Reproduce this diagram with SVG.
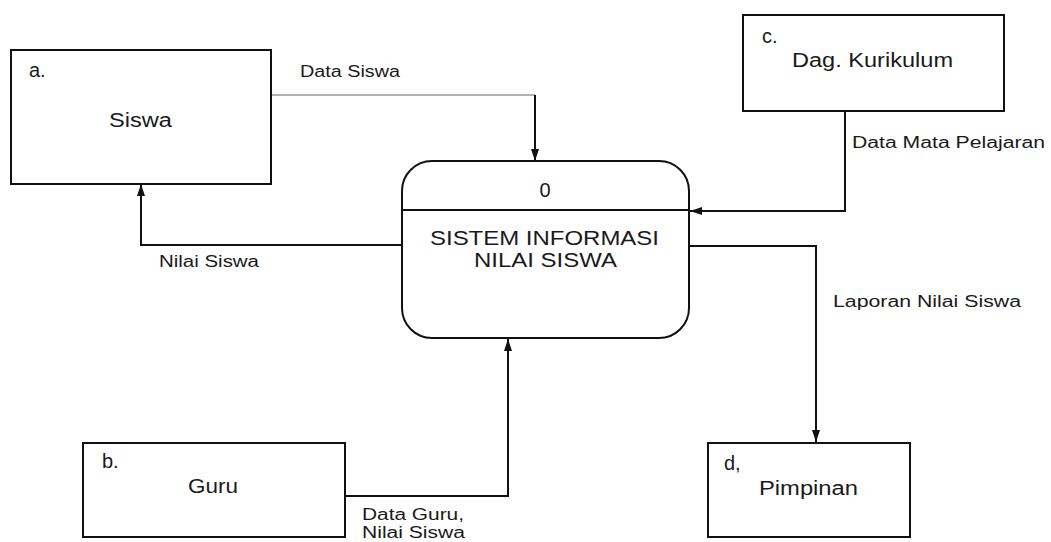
<svg xmlns="http://www.w3.org/2000/svg" width="1051" height="542" viewBox="0 0 1051 542">
<style>
.box{fill:#fff;stroke:#111;stroke-width:2}
.t{font-family:"Liberation Sans",Arial,sans-serif;fill:#1a1a1a}
.n{font-size:20px}
.l{font-size:16px}
.c{fill:none;stroke:#111;stroke-width:2}
</style>
<defs>
<marker id="ah" viewBox="0 0 12 8" refX="12" refY="4" markerWidth="6" markerHeight="4" orient="auto" markerUnits="strokeWidth">
<path d="M0,0 L12,4 L0,8 z" fill="#111"/>
</marker>
</defs>
<rect width="1051" height="542" fill="#fff"/>
<g id="connectors">
<path d="M271,95 H535" fill="none" stroke="#999" stroke-width="1.5"/>
<path class="c" d="M535,95 V161" marker-end="url(#ah)"/>
<path class="c" d="M402,245 H141 V184" marker-end="url(#ah)"/>
<path class="c" d="M845,111 V211 H690" marker-end="url(#ah)"/>
<path class="c" d="M689,246 H816 V442" marker-end="url(#ah)"/>
<path class="c" d="M345,496 H508 V339" marker-end="url(#ah)"/>
<text class="t l" x="300" y="77" textLength="100" lengthAdjust="spacingAndGlyphs">Data Siswa</text>
<text class="t l" x="159" y="267" textLength="100" lengthAdjust="spacingAndGlyphs">Nilai Siswa</text>
<text class="t l" x="852" y="148" textLength="193" lengthAdjust="spacingAndGlyphs">Data Mata Pelajaran</text>
<text class="t l" x="833" y="307" textLength="188" lengthAdjust="spacingAndGlyphs">Laporan Nilai Siswa</text>
<text class="t l" x="362" y="520" textLength="102" lengthAdjust="spacingAndGlyphs">Data Guru,</text>
<text class="t l" x="362" y="538" textLength="103" lengthAdjust="spacingAndGlyphs">Nilai Siswa</text>
</g>
<g id="siswa">
<rect class="box" x="11" y="50" width="260" height="134"/>
<text class="t n" x="29" y="77">a.</text>
<text class="t n" x="109" y="127" textLength="63" lengthAdjust="spacingAndGlyphs">Siswa</text>
</g>
<g id="kurikulum">
<rect class="box" x="743" y="15" width="261" height="96"/>
<text class="t n" x="762" y="43">c.</text>
<text class="t n" x="792" y="67" textLength="161" lengthAdjust="spacingAndGlyphs">Dag. Kurikulum</text>
</g>
<g id="process">
<rect class="box" x="402" y="161" width="287" height="177" rx="30" ry="30"/>
<line x1="402" y1="210" x2="689" y2="210" stroke="#111" stroke-width="2"/>
<text class="t n" x="545" y="197" text-anchor="middle">0</text>
<text class="t n" x="430" y="245" textLength="229" lengthAdjust="spacingAndGlyphs">SISTEM INFORMASI</text>
<text class="t n" x="474" y="267" textLength="143" lengthAdjust="spacingAndGlyphs">NILAI SISWA</text>
</g>
<g id="guru">
<rect class="box" x="83" y="443" width="262" height="94"/>
<text class="t n" x="102" y="468">b.</text>
<text class="t n" x="188" y="493" textLength="50" lengthAdjust="spacingAndGlyphs">Guru</text>
</g>
<g id="pimpinan">
<rect class="box" x="708" y="443" width="202" height="94"/>
<text class="t n" x="724" y="470">d,</text>
<text class="t n" x="759" y="495" textLength="99" lengthAdjust="spacingAndGlyphs">Pimpinan</text>
</g>
</svg>
